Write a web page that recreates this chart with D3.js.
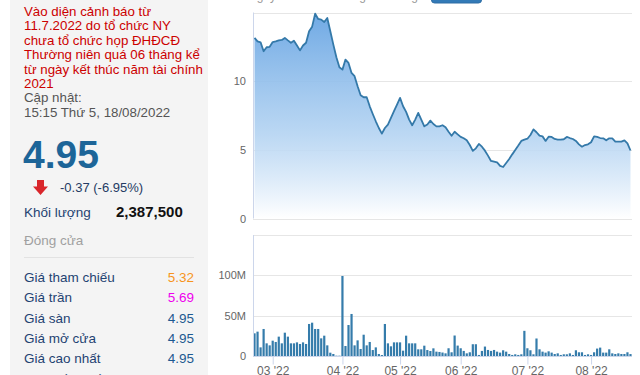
<!DOCTYPE html>
<html>
<head>
<meta charset="utf-8">
<script src="https://cdn.jsdelivr.net/npm/d3@7"></script>
<style>
    body { margin: 0; background: #fff; }
    svg { display: block; font-family: "Liberation Sans", Arial, sans-serif; }
</style>
</head>
<body>
<svg id="chart" width="640" height="375"></svg>
<script>
// closing price per trading day, 21/02/2022 -> 18/08/2022
const priceValues = [
    13.15, 12.9, 12.83, 12.18, 12.47, 12.5, 12.85, 12.9, 12.97, 13.0,
    13.15, 12.97, 12.8, 12.95, 12.6, 12.24, 12.6, 12.8, 13.63, 13.97,
    14.92, 14.53, 14.48, 14.31, 14.6, 13.63, 12.66, 11.74, 11.01, 10.84,
    11.57, 11.33, 10.6, 10.36, 9.63, 8.98, 8.83, 8.83, 8.17, 7.61,
    7.08, 6.59, 6.18, 6.59, 6.84, 7.32, 7.81, 8.29, 8.78, 8.17,
    7.76, 7.2, 6.79, 7.2, 7.69, 7.2, 6.71, 6.84, 7.13, 6.88,
    6.71, 6.71, 6.79, 6.64, 6.32, 6.03, 6.32, 6.13, 5.94, 5.84,
    5.69, 5.35, 4.92, 5.11, 5.43, 5.23, 4.94, 4.58, 4.19, 4.14,
    4.09, 3.83, 3.75, 4.04, 4.33, 4.67, 4.99, 5.31, 5.65, 5.74,
    5.81, 6.08, 6.49, 6.28, 6.03, 5.98, 5.65, 5.96, 5.94, 5.79,
    5.74, 5.74, 5.77, 5.94, 5.86, 5.79, 5.65, 5.4, 5.23, 5.35,
    5.4, 5.55, 5.98, 5.94, 5.86, 5.84, 5.69, 5.84, 5.84, 5.6,
    5.6, 5.6, 5.69, 5.47, 4.95
];

// matched volume per trading day, millions of shares
const volumeValues = [
    28.1, 30.2, 10.7, 33.5, 15.7, 13.2, 19.0, 17.4, 24.0, 15.7,
    28.9, 24.0, 15.7, 15.7, 16.9, 14.9, 16.9, 14.9, 39.7, 41.3,
    33.5, 33.5, 21.9, 25.2, 13.2, 4.1, 2.5, 0.4, 0.4, 99.2,
    12.4, 38.4, 52.1, 13.2, 19.4, 8.7, 26.4, 13.2, 17.4, 7.4,
    10.7, 2.5, 1.2, 39.7, 15.7, 12.0, 16.9, 16.9, 16.9, 6.6,
    25.2, 15.7, 15.7, 15.7, 8.3, 8.3, 12.8, 7.4, 6.2, 9.5,
    5.4, 5.0, 4.3, 3.3, 9.6, 4.6, 25.4, 12.9, 9.6, 6.3,
    3.3, 4.6, 14.6, 14.6, 1.3, 6.3, 11.7, 7.5, 6.3, 7.5,
    5.4, 4.2, 7.1, 5.4, 2.5, 1.3, 2.1, 1.3, 2.1, 31.2,
    9.6, 7.1, 2.1, 21.7, 8.3, 5.4, 4.2, 5.8, 4.2, 2.5,
    3.3, 1.3, 2.1, 2.1, 3.3, 1.3, 7.1, 4.6, 4.6, 1.3,
    2.1, 1.3, 4.6, 9.2, 10.4, 4.2, 4.2, 8.3, 3.3, 2.5,
    3.3, 2.5, 2.5, 4.6, 2.39
];

// first trading day of each month (index into the series)
const monthTickIndex = [6, 29, 48, 68, 90, 111];
const monthTickLabels = ["03 '22", "04 '22", "05 '22", "06 '22", "07 '22", "08 '22"];

const priceTicks = [0, 5, 10];
const priceGrid = [0, 5, 10, 15];
const volumeTicks = [0, 50, 100];
const volumeGrid = [0, 50, 100, 150];

const rangeButtons = ["1 ngày", "1 tuần", "1 tháng", "3 tháng", "6 tháng", "1 năm", "3 năm", "Tất cả"];

const warningLines = [
    "Vào diện cảnh báo từ",
    "11.7.2022 do tổ chức NY",
    "chưa tổ chức họp ĐHĐCĐ",
    "Thường niên quá 06 tháng kể",
    "từ ngày kết thúc năm tài chính",
    "2021"
];
const updateLines = ["Cập nhật:", "15:15 Thứ 5, 18/08/2022"];

const lastPrice = "4.95";
const priceChange = "-0.37 (-6.95%)";
const volumeLabel = "Khối lượng";
const volumeText = "2,387,500";
const sessionLabel = "Đóng cửa";

const infoLabels = ["Giá tham chiếu", "Giá trần", "Giá sàn", "Giá mở cửa", "Giá cao nhất", "Giá thấp nhất"];
const infoValues = ["5.32", "5.69", "4.95", "4.95", "4.95", "4.95"];

const svg = d3.select("#chart");

const plotLeft = 253;
const plotRight = 632;
const gridColor = "#e6e6e6";
const axisColor = "#ccd6eb";
const labelColor = "#666";

const x = d3.scaleLinear()
    .domain([-0.5, priceValues.length - 0.5])
    .range([plotLeft, plotRight]);

function drawSidePanel() {
    const panel = svg.append("g").attr("class", "side-panel");

    panel.append("rect")
        .attr("x", 10).attr("y", 0)
        .attr("width", 198).attr("height", 375)
        .attr("fill", "#f4f4f4");

    panel.selectAll(".warning")
        .data(warningLines)
        .enter().append("text")
        .attr("class", "warning")
        .attr("x", 24)
        .attr("y", (d, i) => 16 + i * 14.4)
        .attr("font-size", 13.3)
        .attr("fill", "#cc0000")
        .text(d => d);

    panel.selectAll(".update")
        .data(updateLines)
        .enter().append("text")
        .attr("class", "update")
        .attr("x", 24)
        .attr("y", (d, i) => 102 + i * 14.6)
        .attr("font-size", 13.3)
        .attr("fill", "#555")
        .text(d => d);

    panel.append("text")
        .attr("x", 23).attr("y", 168)
        .attr("font-size", 39)
        .attr("font-weight", "bold")
        .attr("fill", "#1d6598")
        .text(lastPrice);

    // red down arrow
    panel.append("path")
        .attr("d", "M37,180 H44 V186.5 H48 L40.5,195 L33,186.5 H37 Z")
        .attr("fill", "#d9262b");

    panel.append("text")
        .attr("x", 60).attr("y", 192)
        .attr("font-size", 13)
        .attr("fill", "#243b63")
        .text(priceChange);

    panel.append("text")
        .attr("x", 24).attr("y", 217)
        .attr("font-size", 13.5)
        .attr("fill", "#1f4372")
        .text(volumeLabel);

    panel.append("text")
        .attr("x", 116).attr("y", 217)
        .attr("font-size", 15)
        .attr("font-weight", "bold")
        .attr("fill", "#111")
        .text(volumeText);

    panel.append("text")
        .attr("x", 24).attr("y", 244.5)
        .attr("font-size", 13.5)
        .attr("fill", "#a0a0a0")
        .text(sessionLabel);

    panel.append("line")
        .attr("x1", 24).attr("x2", 194)
        .attr("y1", 257.5).attr("y2", 257.5)
        .attr("stroke", "#e2e2e2");

    const valueColors = ["#f7941d", "#ee00ee", "#1d5a91", "#1d5a91", "#1d5a91", "#1d5a91"];

    const rows = panel.selectAll(".info-row")
        .data(infoLabels)
        .enter().append("g")
        .attr("class", "info-row")
        .attr("transform", (d, i) => `translate(0,${281.7 + i * 20.4})`);

    rows.append("text")
        .attr("x", 24)
        .attr("font-size", 13.5)
        .attr("fill", "#1f4372")
        .text(d => d);

    rows.append("text")
        .attr("x", 194)
        .attr("text-anchor", "end")
        .attr("font-size", 13.5)
        .attr("fill", (d, i) => valueColors[i])
        .text((d, i) => infoValues[i]);
}

function drawRangeButtons() {
    // only the bottom edge of the range selector shows above the chart
    const bx = [240, 282, 326, 378, 432, 496, 540, 584];
    rangeButtons.forEach((label, i) => {
        if (i === 4) {
            svg.append("rect")
                .attr("x", 431.5).attr("y", -10)
                .attr("width", 50).attr("height", 13)
                .attr("rx", 3)
                .attr("fill", "#337ab7")
                .attr("stroke", "#2e6da4");
            return;
        }
        svg.append("text")
            .attr("x", bx[i]).attr("y", 0)
            .attr("font-size", 12)
            .attr("fill", "#999")
            .text(label);
    });
}

function drawPricePanel() {
    const y = d3.scaleLinear().domain([0, 15]).range([218.5, 12.5]);
    const g = svg.append("g").attr("class", "price");

    const defs = svg.append("defs");
    const grad = defs.append("linearGradient")
        .attr("id", "priceFill")
        .attr("gradientUnits", "userSpaceOnUse")
        .attr("x1", 0).attr("x2", 0)
        .attr("y1", y(15)).attr("y2", y(0));
    grad.append("stop").attr("offset", "0%").attr("stop-color", "#6fa9e4").attr("stop-opacity", 1);
    grad.append("stop").attr("offset", "55%").attr("stop-color", "#a9cdf0").attr("stop-opacity", 0.85);
    grad.append("stop").attr("offset", "100%").attr("stop-color", "#ffffff").attr("stop-opacity", 1);

    g.selectAll(".grid")
        .data(priceGrid)
        .enter().append("line")
        .attr("class", "grid")
        .attr("x1", plotLeft).attr("x2", plotRight)
        .attr("y1", d => Math.round(y(d)) + 0.5)
        .attr("y2", d => Math.round(y(d)) + 0.5)
        .attr("stroke", gridColor);

    const area = d3.area()
        .x((d, i) => x(i))
        .y0(y(0))
        .y1(d => y(d));

    const line = d3.line()
        .x((d, i) => x(i))
        .y(d => y(d));

    g.append("path")
        .datum(priceValues)
        .attr("d", area)
        .attr("fill", "url(#priceFill)");

    g.append("path")
        .datum(priceValues)
        .attr("d", line)
        .attr("fill", "none")
        .attr("stroke", "#3479a9")
        .attr("stroke-width", 1.8)
        .attr("stroke-linejoin", "round");

    g.append("line")
        .attr("x1", plotLeft + 0.5).attr("x2", plotLeft + 0.5)
        .attr("y1", y(15)).attr("y2", y(0))
        .attr("stroke", axisColor);

    const yAxis = g.append("g")
        .attr("transform", `translate(${plotLeft},0)`)
        .call(d3.axisLeft(y).tickValues(priceTicks).tickSize(0).tickPadding(7));
    yAxis.select(".domain").remove();
    yAxis.selectAll("text")
        .attr("font-size", 11)
        .attr("font-family", "Liberation Sans, Arial, sans-serif")
        .attr("fill", labelColor);
}

function drawVolumePanel() {
    const y = d3.scaleLinear().domain([0, 150]).range([356, 235]);
    const g = svg.append("g").attr("class", "volume");

    g.selectAll(".grid")
        .data(volumeGrid.slice(1))
        .enter().append("line")
        .attr("class", "grid")
        .attr("x1", plotLeft).attr("x2", plotRight)
        .attr("y1", d => Math.round(y(d)) + 0.5)
        .attr("y2", d => Math.round(y(d)) + 0.5)
        .attr("stroke", gridColor);

    g.selectAll(".bar")
        .data(volumeValues)
        .enter().append("rect")
        .attr("class", "bar")
        .attr("x", (d, i) => x(i) - 1.1)
        .attr("width", 2.2)
        .attr("y", d => y(d))
        .attr("height", d => y(0) - y(d))
        .attr("fill", "#357cab");

    g.append("line")
        .attr("x1", plotLeft + 0.5).attr("x2", plotLeft + 0.5)
        .attr("y1", y(150)).attr("y2", y(0))
        .attr("stroke", axisColor);

    const xAxis = g.append("g")
        .attr("transform", `translate(0,${y(0) + 0.5})`)
        .call(d3.axisBottom(x)
            .tickValues(monthTickIndex)
            .tickFormat((d, i) => monthTickLabels[i])
            .tickSizeOuter(0)
            .tickSize(8)
            .tickPadding(2));
    xAxis.select(".domain")
        .attr("stroke", axisColor)
        .attr("d", `M${plotLeft},0H${plotRight}`);
    xAxis.selectAll(".tick line").attr("stroke", axisColor);
    xAxis.selectAll("text")
        .attr("font-size", 12)
        .attr("font-family", "Liberation Sans, Arial, sans-serif")
        .attr("fill", labelColor);

    const yAxis = g.append("g")
        .attr("transform", `translate(${plotLeft},0)`)
        .call(d3.axisLeft(y)
            .tickValues(volumeTicks)
            .tickFormat(d => d === 0 ? "0" : d + "M")
            .tickSize(0)
            .tickPadding(7));
    yAxis.select(".domain").remove();
    yAxis.selectAll("text")
        .attr("font-size", 11)
        .attr("font-family", "Liberation Sans, Arial, sans-serif")
        .attr("fill", labelColor);
}

drawSidePanel();
drawRangeButtons();
drawPricePanel();
drawVolumePanel();
</script>
</body>
</html>
